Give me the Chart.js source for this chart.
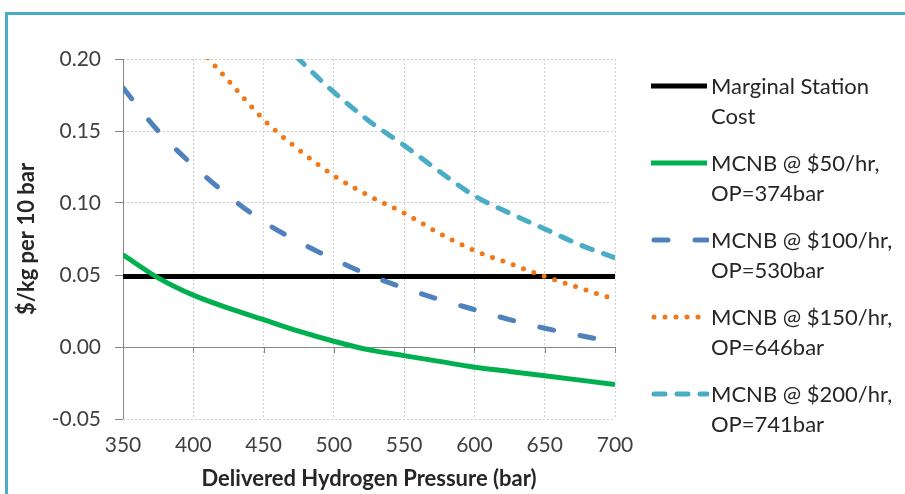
<!DOCTYPE html>
<html>
<head>
<meta charset="utf-8">
<script src="https://cdn.jsdelivr.net/npm/chart.js@4/dist/chart.umd.min.js"></script>
<style>
  html, body { margin: 0; padding: 0; background: #fff; }
  body { width: 905px; height: 494px; position: relative; overflow: hidden; font-family: Lato, "Open Sans", sans-serif; }
  #frame { position: absolute; left: 5px; top: 12px; width: 1000px; height: 600px;
           border-left: 3px solid #4bacc6; border-top: 3px solid #4bacc6; }
  #chart { position: absolute; left: 0; top: 0; }
  .legend-item { position: absolute; left: 651px; height: 60px; }
  .legend-item svg { position: absolute; left: 0; top: 10px; }
  .legend-item span { position: absolute; left: 60px; top: 0; width: 190px;
                      font-size: 22px; line-height: 30px; color: #262626; white-space: nowrap; }
</style>
</head>
<body>
<div id="frame"></div>
<canvas id="chart" width="905" height="494"></canvas>
<div id="legend"></div>
<script>
// -----------------------------
// Data
// -----------------------------
const pressures = [350, 375, 400, 425, 450, 475, 500, 525, 550, 575, 600, 625, 650, 675, 700];

const marginalCost = [0.049, 0.049, 0.049, 0.049, 0.049, 0.049, 0.049, 0.049, 0.049, 0.049, 0.049, 0.049, 0.049, 0.049, 0.049];
const mcnb50  = [0.064, 0.048, 0.036, 0.027, 0.019, 0.011, 0.004, -0.002, -0.006, -0.010, -0.014, -0.017, -0.020, -0.023, -0.026];
const mcnb100 = [0.180, 0.150, 0.126, 0.105, 0.087, 0.073, 0.061, 0.050, 0.041, 0.033, 0.026, 0.019, 0.013, 0.008, 0.003];
const mcnb150 = [0.290, 0.250, 0.213, 0.185, 0.158, 0.137, 0.119, 0.105, 0.093, 0.079, 0.067, 0.058, 0.049, 0.041, 0.033];
const mcnb200 = [0.370, 0.330, 0.290, 0.255, 0.225, 0.200, 0.177, 0.157, 0.140, 0.122, 0.105, 0.093, 0.082, 0.071, 0.062];

const seriesLabels = [
  ["Marginal Station", "Cost"],
  ["MCNB @ $50/hr,", "OP=374bar"],
  ["MCNB @ $100/hr,", "OP=530bar"],
  ["MCNB @ $150/hr,", "OP=646bar"],
  ["MCNB @ $200/hr,", "OP=741bar"]
];

const xTicks = [350, 400, 450, 500, 550, 600, 650, 700];
const yTicks = [-0.05, 0.00, 0.05, 0.10, 0.15, 0.20];

const xTitle = "Delivered Hydrogen Pressure (bar)";
const yTitle = "$/kg per 10 bar";

// -----------------------------
// Helpers
// -----------------------------
function toPoints(values) {
  return pressures.map((p, i) => ({ x: p, y: values[i] }));
}

const styles = [
  { color: "#000000", width: 5, dash: [], cap: "butt" },
  { color: "#00b050", width: 5, dash: [], cap: "butt" },
  { color: "#4f81bd", width: 5, dash: [14, 27], cap: "round" },
  { color: "#f07818", width: 5, dash: [0, 11], cap: "round" },
  { color: "#4bacc6", width: 5, dash: [11, 12], cap: "round" }
];

const allSeries = [marginalCost, mcnb50, mcnb100, mcnb150, mcnb200];

// solid axis lines (left axis, zero line) drawn under the data
const axisLines = {
  id: "axisLines",
  beforeDatasetsDraw(chart) {
    const { ctx, chartArea, scales } = chart;
    const x = scales.x, y = scales.y;
    const y0 = y.getPixelForValue(0);
    ctx.save();
    ctx.strokeStyle = "#868686";
    ctx.lineWidth = 1;
    ctx.setLineDash([]);
    ctx.beginPath();
    ctx.moveTo(chartArea.left + 0.5, chartArea.top);
    ctx.lineTo(chartArea.left + 0.5, chartArea.bottom);
    ctx.moveTo(chartArea.left, Math.round(y0) + 0.5);
    ctx.lineTo(chartArea.right, Math.round(y0) + 0.5);
    xTicks.forEach(t => {
      const px = Math.round(x.getPixelForValue(t)) + 0.5;
      ctx.moveTo(px, Math.round(y0));
      ctx.lineTo(px, Math.round(y0) + 6);
    });
    ctx.stroke();
    ctx.restore();
  }
};

// -----------------------------
// Chart
// -----------------------------
const tickFont = { family: "Lato, 'Open Sans', sans-serif", size: 21 };
const titleFont = { family: "Lato, 'Open Sans', sans-serif", size: 22, weight: "bold" };

new Chart(document.getElementById("chart").getContext("2d"), {
  type: "line",
  data: {
    datasets: allSeries.map((vals, i) => ({
      label: seriesLabels[i].join(" "),
      data: toPoints(vals),
      borderColor: styles[i].color,
      borderWidth: styles[i].width,
      borderDash: styles[i].dash,
      borderCapStyle: styles[i].cap,
      pointRadius: 0,
      cubicInterpolationMode: "monotone",
      fill: false
    })).reverse()
  },
  options: {
    responsive: false,
    animation: false,
    devicePixelRatio: 1,
    layout: { padding: { left: 0, top: 59, right: 290, bottom: 0 } },
    plugins: { legend: { display: false }, tooltip: { enabled: false } },
    scales: {
      x: {
        type: "linear",
        min: 350,
        max: 700,
        afterBuildTicks(scale) { scale.ticks = xTicks.map(v => ({ value: v })); },
        afterFit(scale) { scale.height = 75; },
        ticks: { font: tickFont, color: "#404040", padding: 14, maxRotation: 0 },
        grid: { color: "#cfcfcf", drawTicks: false, lineWidth: 1 },
        border: { display: false, dash: [2, 2] },
        title: { display: true, text: xTitle, font: titleFont, color: "#262626", padding: { top: 4, bottom: 2 } }
      },
      y: {
        min: -0.05,
        max: 0.2,
        afterBuildTicks(scale) { scale.ticks = yTicks.map(v => ({ value: v })); },
        afterFit(scale) { scale.width = 123; },
        ticks: { font: tickFont, color: "#404040", padding: 14, callback: v => v.toFixed(2) },
        grid: { color: "#cfcfcf", drawTicks: true, tickLength: 8, tickColor: "#868686", tickBorderDash: [], lineWidth: 1 },
        border: { display: false, dash: [2, 2] },
        title: { display: true, text: yTitle, font: titleFont, color: "#262626", padding: { top: 14, bottom: 0 } }
      }
    }
  },
  plugins: [axisLines]
});

// -----------------------------
// Legend (HTML, two-line labels)
// -----------------------------
function buildLegend() {
  const box = document.getElementById("legend");
  seriesLabels.forEach((lines, i) => {
    const s = styles[i];
    const item = document.createElement("div");
    item.className = "legend-item";
    item.style.top = (71 + i * 77) + "px";
    const dash = s.dash.length ? `stroke-dasharray="${s.dash.join(" ")}"` : "";
    item.innerHTML =
      `<svg width="58" height="10"><line x1="${s.cap === "round" ? 3 : 0}" y1="5" x2="56" y2="5" stroke="${s.color}"` +
      ` stroke-width="${s.width}" stroke-linecap="${s.cap}" ${dash}/></svg>` +
      `<span>${lines[0]}<br>${lines[1]}</span>`;
    box.appendChild(item);
  });
}
buildLegend();
</script>
</body>
</html>
